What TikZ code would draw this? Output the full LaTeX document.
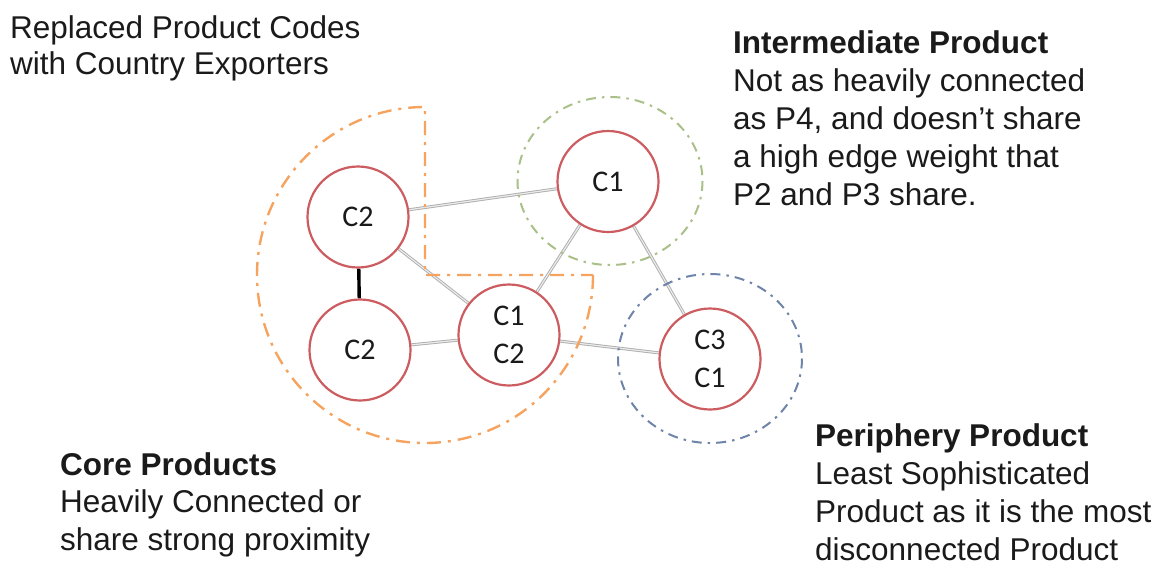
\documentclass[tikz,border=0pt]{standalone}
\usepackage{fontspec}
\usetikzlibrary{backgrounds}
\setmainfont{Liberation Sans}
\newfontfamily\nodefont{Carlito}
\definecolor{nodered}{HTML}{CC5C60}
\definecolor{coreorange}{HTML}{F5A35E}
\definecolor{intgreen}{HTML}{A9C088}
\definecolor{perblue}{HTML}{6E84A8}
\definecolor{txt}{HTML}{1A1A1A}
\begin{document}
\begin{tikzpicture}[x=1pt,y=-1pt,
  prod/.style={circle, draw=nodered, line width=2.2pt, fill=white, minimum size=101pt, inner sep=0pt,
    align=center, text=txt, font=\nodefont\fontsize{30}{38}\selectfont},
  link/.style={draw=black!32, double=black!8, double distance=1.2pt, line width=0.9pt},
  strong/.style={draw=black, line width=3.4pt},
  corezone/.style={draw=coreorange, line width=2.4pt, dash pattern=on 14pt off 7pt on 3pt off 7pt},
  intzone/.style={draw=intgreen, line width=2pt, dash pattern=on 10pt off 6pt on 2.5pt off 6pt},
  perzone/.style={draw=perblue, line width=2pt, dash pattern=on 10pt off 6pt on 2.5pt off 6pt},
  label/.style={anchor=base west, inner sep=0pt, align=left, text=txt, font=\fontsize{31.5}{38}\selectfont}
]
\useasboundingbox (0,0) rectangle (1170,560);

% zones
\draw[corezone] (593,275) arc[start angle=0, end angle=270, radius=168] -- (425,275) -- cycle;
\draw[intzone] (610,181) ellipse[x radius=92.5, y radius=84];
\draw[perzone] (710,358.5) ellipse[x radius=92, y radius=84.5];

% nodes
\node[prod] (c2a) at (358,217) {C2};
\node[prod] (c2b) at (360,350) {C2};
\node[prod] (c12) at (509,335) {C1\\C2};
\node[prod] (c1)  at (608,181.5) {C1};
\node[prod] (c31) at (710,359) {C3\\C1};

% connectors (behind the nodes)
\begin{pgfonlayer}{background}
\draw[link] (c2a) -- (c1);
\draw[link] (c2a) -- (c12);
\draw[link] (c2b) -- (c12);
\draw[link] (c12) -- (c1);
\draw[link] (c12) -- (c31);
\draw[link] (c1) -- (c31);
\draw[strong] (c2a) -- (c2b);
\end{pgfonlayer}

% texts (anchor = baseline of last line)
\node[label, font=\fontsize{31.5}{36}\selectfont] (t1) at (10,74) {Replaced Product Codes\\with Country Exporters};
\node[label] (t2) at (733,205) {\textbf{Intermediate Product}\\Not as heavily connected\\as P4, and doesn’t share\\a high edge weight that\\P2 and P3 share.};
\node[label, font=\fontsize{31.5}{37.5}\selectfont] (t3) at (60,550) {\textbf{Core Products}\\Heavily Connected or\\share strong proximity};
\node[label] (t4) at (815,560) {\textbf{Periphery Product}\\Least Sophisticated\\Product as it is the most\\disconnected Product};
\end{tikzpicture}
\end{document}
